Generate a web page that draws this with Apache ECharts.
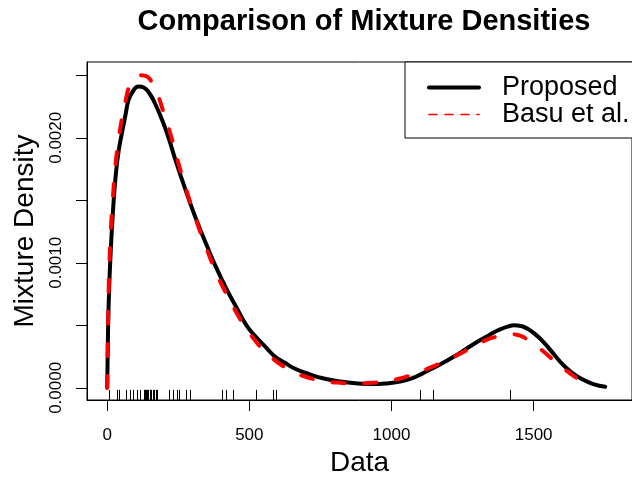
<!DOCTYPE html>
<html>
<head>
<meta charset="utf-8">
<script src="https://cdn.jsdelivr.net/npm/echarts@6/dist/echarts.min.js"></script>
<style>html,body{margin:0;padding:0;background:#fff}#c{width:632px;height:482px}</style>
</head>
<body>
<div id="c"></div>
<script>
// ---- data ----
const proposedX = [0, 3, 7, 13, 20, 30, 40, 52, 65, 75, 90, 110, 130, 150, 167, 190, 213, 235, 258, 290, 316, 350, 384, 420, 453, 490, 522, 560, 590, 625, 659, 710, 762, 820, 880, 934, 980, 1030, 1071, 1105, 1140, 1174, 1220, 1265, 1311, 1350, 1380, 1410, 1431, 1455, 1480, 1505, 1529, 1560, 1597, 1630, 1666, 1710, 1752];
const proposedY = [0, 0.00045, 0.0008, 0.00112, 0.0014, 0.0017, 0.00189, 0.00204, 0.00219, 0.0023, 0.00237, 0.00241, 0.0024, 0.00235, 0.00228, 0.00216, 0.00202, 0.00186, 0.0017, 0.00149, 0.00133, 0.00114, 0.00096, 0.00079, 0.00065, 0.0005, 0.00041, 0.00032, 0.00025, 0.0002, 0.000155, 0.00011, 0.000075, 0.00005, 0.000035, 0.00003, 0.000035, 0.00005, 0.000075, 0.00011, 0.00015, 0.00019, 0.00025, 0.000315, 0.00038, 0.00043, 0.000465, 0.00049, 0.0005, 0.000495, 0.00047, 0.00043, 0.00038, 0.0003, 0.0002, 0.00013, 0.000075, 0.00003, 0.000008];
const basuX = [0, 3, 6, 12, 20, 30, 40, 50, 65, 80, 100, 120, 140, 160, 180, 200, 225, 250, 280, 310, 345, 380, 415, 450, 485, 520, 555, 590, 625, 660, 710, 760, 820, 880, 930, 980, 1030, 1080, 1130, 1180, 1230, 1280, 1330, 1370, 1410, 1440, 1476, 1505, 1535, 1560, 1590, 1620, 1650, 1682, 1700];
const basuY = [0, 0.0005, 0.00085, 0.00122, 0.00152, 0.0018, 0.00198, 0.00213, 0.0023, 0.00242, 0.00248, 0.0025, 0.00249, 0.00243, 0.00233, 0.00219, 0.00201, 0.0018, 0.00157, 0.00136, 0.00114, 0.00094, 0.00077, 0.00062, 0.00049, 0.00038, 0.00029, 0.00022, 0.000165, 0.00012, 0.00008, 0.000055, 0.00004, 0.000035, 0.00004, 0.00005, 0.000075, 0.00011, 0.000155, 0.000205, 0.00026, 0.00032, 0.00038, 0.00041, 0.00043, 0.000425, 0.00039, 0.000345, 0.00029, 0.00024, 0.00018, 0.00013, 0.00008, 0.00004, 0.000025];
const rugX = [6, 33, 43, 65, 80, 92, 104, 114, 128, 132, 135, 140, 145, 150, 155, 160, 165, 170, 175, 219, 232, 244, 252, 276, 293, 403, 418, 441, 523, 583, 593, 1101, 1145, 1417];
const xTicks = [0, 500, 1000, 1500];
const yTicks = [0, 0.0005, 0.001, 0.0015, 0.002, 0.0025];
const yLabels = [0, 0.001, 0.002];
const seriesNames = ['Proposed', 'Basu et al.'];

// ---- chart ----
const X_MIN = -71, X_MAX = 1846;
const Y_MIN = -0.0000973, Y_MAX = 0.002606;
const RUG = 0.03 * (Y_MAX - Y_MIN);
const FONT = 'Liberation Sans, Arial, Helvetica, sans-serif';

const zip = (a, b) => a.map((v, i) => [v, b[i]]);

const chart = echarts.init(document.getElementById('c'), null, {renderer: 'canvas'});
chart.setOption({
  animation: false,
  backgroundColor: '#fff',
  title: {
    text: 'Comparison of Mixture Densities',
    left: 364, top: 7, padding: 0, textAlign: 'center',
    textStyle: {fontSize: 29, fontWeight: 'bold', fontFamily: FONT, color: '#000'}
  },
  grid: {left: 87, top: 62, right: -14, bottom: 78, show: true, borderColor: '#000', borderWidth: 1, backgroundColor: 'transparent'},
  xAxis: {
    type: 'value', min: X_MIN, max: X_MAX,
    name: 'Data', nameLocation: 'middle', nameGap: 49,
    nameTextStyle: {fontSize: 28, fontFamily: FONT, color: '#000'},
    axisLine: {show: true, onZero: false, lineStyle: {color: '#000', width: 1}},
    axisTick: {show: true, length: 11, customValues: xTicks, lineStyle: {color: '#000'}},
    axisLabel: {customValues: xTicks, margin: 27, fontSize: 17, fontFamily: FONT, color: '#000',
      formatter: v => String(v)},
    splitLine: {show: false}
  },
  yAxis: {
    type: 'value', min: Y_MIN, max: Y_MAX,
    name: 'Mixture Density', nameLocation: 'middle', nameGap: 48,
    nameTextStyle: {fontSize: 28, fontFamily: FONT, color: '#000'},
    axisLine: {show: true, onZero: false, lineStyle: {color: '#000', width: 1}},
    axisTick: {show: true, length: 11, customValues: yTicks, lineStyle: {color: '#000'}},
    axisLabel: {customValues: yLabels, rotate: 90, margin: 22, fontSize: 17, fontFamily: FONT, color: '#000',
      formatter: v => v.toFixed(4)},
    splitLine: {show: false}
  },
  legend: {
    show: true,
    orient: 'vertical', left: 405, top: 62,
    padding: [12, 30, 10, 22], itemGap: 0, itemWidth: 50, itemHeight: 4,
    backgroundColor: '#fff', borderColor: '#000', borderWidth: 1, borderRadius: 0,
    textStyle: {fontSize: 27, fontFamily: FONT, color: '#000', padding: [0, 0, 0, 18]},
    itemStyle: {opacity: 0},
    data: [
      {name: seriesNames[0], itemStyle: {opacity: 0}, lineStyle: {width: 4, type: 'solid', cap: 'round', color: '#000'}},
      {name: seriesNames[1], itemStyle: {opacity: 0}, lineStyle: {width: 1.7, type: [8, 8], color: '#ff0000'}}
    ]
  },
  series: [
    {
      name: seriesNames[0], type: 'line', data: zip(proposedX, proposedY),
      symbol: 'none', smooth: 0.5, z: 2,
      lineStyle: {color: '#000', width: 4, cap: 'round', join: 'round'}, itemStyle: {color: '#000'}
    },
    {
      name: seriesNames[1], type: 'line', data: zip(basuX, basuY),
      symbol: 'none', smooth: 0.5, z: 3,
      lineStyle: {color: '#ff0000', width: 4, type: [12, 20], cap: 'round', join: 'round'}, itemStyle: {color: '#ff0000'}
    },
    {
      type: 'custom', data: rugX.map(v => [v, 0]), z: 4, silent: true,
      renderItem: (params, api) => {
        const x = api.value(0);
        const p0 = api.coord([x, Y_MIN]);
        const p1 = api.coord([x, Y_MIN + RUG]);
        return {type: 'line', shape: {x1: Math.round(p0[0]) + 0.5, y1: p0[1], x2: Math.round(p1[0]) + 0.5, y2: p1[1]}, style: {stroke: '#000', lineWidth: 1}};
      }
    }
  ]
});
</script>
</body>
</html>
